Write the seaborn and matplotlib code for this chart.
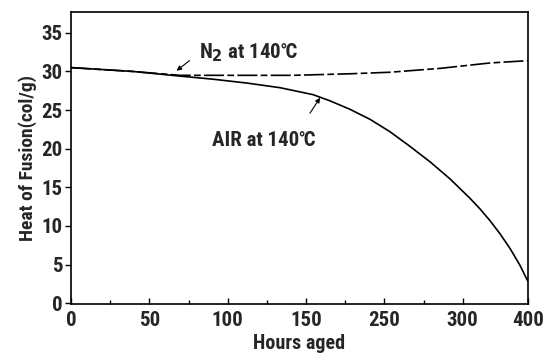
import matplotlib
matplotlib.use("Agg")
import matplotlib.pyplot as plt
import seaborn as sns
import pandas as pd
from matplotlib import font_manager
from matplotlib.font_manager import FontProperties

# Data (x in axis-position units; the printed tick labels are non-linear)
n2_x = [0, 39.6, 69.6, 103.4, 141.7, 178.1, 203.6, 235.5, 267.4, 291.7]
n2_y = [30.5, 30.0, 29.5, 29.5, 29.5, 29.7, 29.9, 30.4, 31.1, 31.4]
air_x = [0, 39.6, 69.6, 90.6, 112.3, 133.4, 154.5, 165.3, 178.1, 190.9, 203.6, 216.4,
         229.2, 241.9, 254.6, 261.1, 267.4, 273.8, 280.2, 286.6, 291.7]
air_y = [30.5, 30.0, 29.4, 29.0, 28.5, 27.9, 27.0, 26.2, 25.1, 23.8, 22.2, 20.3,
         18.3, 16.1, 13.6, 12.2, 10.7, 9.0, 7.1, 4.9, 2.8]

xtick_pos = [0, 50, 100, 150, 200, 250, 291.7]
xtick_labels = ["0", "50", "100", "150", "250", "300", "400"]
xminor_pos = [25, 75, 125, 175, 225]
yticks = [0, 5, 10, 15, 20, 25, 30, 35]

sns.set_style("white")

# pick a condensed sans if available
stretch = "normal"
fam = ["DejaVu Sans"]
names = {f.name for f in font_manager.fontManager.ttflist}
for cand in ["Liberation Sans Narrow", "Roboto Condensed", "Open Sans Condensed", "Noto Sans Condensed"]:
    if cand in names:
        fam = [cand, "DejaVu Sans"]
        break
else:
    for base in ["Noto Sans", "DejaVu Sans", "Open Sans", "Roboto"]:
        try:
            p = font_manager.findfont(FontProperties(family=base, stretch="condensed"), fallback_to_default=False)
            if "ondensed" in p or "arrow" in p:
                fam = [base, "DejaVu Sans"]
                stretch = "condensed"
                break
        except Exception:
            pass
plt.rcParams["font.family"] = fam
plt.rcParams["font.stretch"] = stretch
plt.rcParams["font.weight"] = "semibold"
plt.rcParams["axes.labelweight"] = "semibold"

df_n2 = pd.DataFrame({"x": n2_x, "y": n2_y})
df_air = pd.DataFrame({"x": air_x, "y": air_y})

fig = plt.figure(figsize=(5.53, 3.62), dpi=100)
ax = fig.add_axes([0.1284, 0.1602, 0.8264, 0.8067])

sns.lineplot(data=df_air, x="x", y="y", ax=ax, color="black", lw=1.2, estimator=None, sort=False)
sns.lineplot(data=df_n2, x="x", y="y", ax=ax, color="black", lw=1.2, estimator=None, sort=False,
             linestyle=(0, (12, 2, 4, 2)))

ax.set_xlim(0, 291.7)
ax.set_ylim(-0.1, 37.7)
ax.set_xticks(xtick_pos)
ax.set_xticklabels(xtick_labels)
ax.set_xticks(xminor_pos, minor=True)
ax.set_yticks(yticks)
ax.tick_params(axis="x", which="major", direction="in", length=4, width=1, pad=5, labelsize=15, color="black")
ax.tick_params(axis="x", which="minor", direction="in", length=3, width=1, color="black")
ax.tick_params(axis="y", which="major", direction="out", length=4, width=1, pad=2, labelsize=15, color="black")
ax.tick_params(left=True, bottom=True, which="both")
for s in ax.spines.values():
    s.set_color("black")
    s.set_linewidth(1.2)

ax.set_xlabel("Hours aged", fontsize=14.5, labelpad=3, fontweight="semibold")
ax.set_ylabel("Heat of Fusion(col/g)", fontsize=14, labelpad=3, fontweight="semibold")

arrow = dict(arrowstyle="-|>", color="black", lw=0.8, mutation_scale=7, shrinkA=0, shrinkB=0)
ax.annotate("", xy=(67.4, 30.1), xytext=(75.6, 31.4), arrowprops=arrow)
ax.text(82, 32.4, "N$_2$ at 140℃", fontsize=15, ha="left", va="center")
ax.annotate("", xy=(159, 26.6), xytext=(152.5, 24.6), arrowprops=arrow)
ax.text(90, 21.1, "AIR at 140℃", fontsize=15, ha="left", va="center")

fig.savefig("out.png", dpi=100)
